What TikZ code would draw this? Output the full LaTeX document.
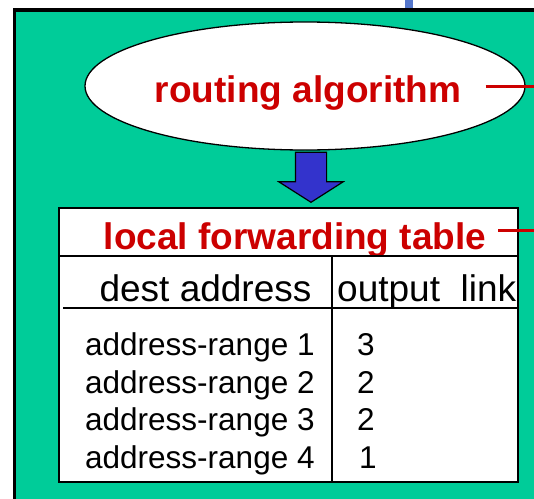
\documentclass[tikz,border=0pt]{standalone}
\usepackage{fontspec}
\setmainfont{Liberation Sans}
\usetikzlibrary{shapes.geometric,shapes.arrows,positioning}
\definecolor{routergreen}{RGB}{0,204,153}
\definecolor{labelred}{RGB}{204,0,0}
\definecolor{arrowblue}{RGB}{51,51,204}
\definecolor{linkblue}{RGB}{85,119,204}

\begin{document}
\begin{tikzpicture}[
    x=1pt, y=-1pt,
    router/.style={rectangle, draw=black, fill=routergreen, line width=3.5pt, inner sep=0pt},
    algo/.style={ellipse, draw=black, fill=white, line width=1.3pt, inner sep=0pt, minimum width=440pt, minimum height=128pt},
    tablebox/.style={rectangle, draw=black, fill=white, line width=2pt, inner sep=0pt},
    heading/.style={font=\fontsize{37}{40}\selectfont\bfseries, text=labelred, inner sep=0pt},
    colhead/.style={font=\fontsize{37}{40}\selectfont, inner sep=0pt},
    entry/.style={font=\fontsize{31.5}{34}\selectfont, inner sep=0pt},
    rule/.style={draw=black, line width=1.5pt},
    feed/.style={draw=labelred, line width=3pt},
    downarrow/.style={single arrow, draw=black, fill=arrowblue, line width=1.2pt, rotate=-90,
        inner xsep=0pt, inner ysep=15pt, minimum height=50pt,
        single arrow head extend=16.5pt, single arrow tip angle=115}
]
    \clip (0,0) rectangle (534,498);

    % router box and the link coming in from above
    \coordinate (uplink) at (409,-5);
    \draw[linkblue, line width=8pt] (uplink) -- (409,12);
    \node[router, minimum width=546pt, minimum height=510pt] (router) at (287.25,265) {};

    % routing algorithm
    \node[algo] (algo) at (305,86) {};
    \node[heading, anchor=base] (algolabel) at (308,102) {routing algorithm};
    \draw[feed] ([xshift=-40pt]algo.east) -- ++(60pt,0pt);

    % big arrow down to the table
    \node[downarrow, anchor=tip] (fill) at (311,203) {};

    % forwarding table
    \node[tablebox, minimum width=459pt, minimum height=274pt] (fwd) at (288.5,345) {};
    \node[heading, anchor=base] (fwdtitle) at (295,249) {local forwarding table};
    \draw[feed] ([shift={(12pt,19pt)}]fwdtitle.base east) -- ++(50pt,0pt);

    \draw[rule] ([yshift=-49pt]fwd.north west) -- ([yshift=-49pt]fwd.north east);
    \draw[rule] ([shift={(5pt,-101pt)}]fwd.north west) -- ([yshift=-101pt]fwd.north east);
    \draw[rule] ([shift={(274pt,-49pt)}]fwd.north west) -- ([xshift=274pt]fwd.south west);

    % column heads
    \node[colhead, anchor=base] (desthead) at (205.5,301) {dest address};
    \node[colhead, anchor=base west] (linkhead) at (337,301) {output\ \ link};

    % entries
    \node[entry, anchor=base west] (range1) at (85,355) {address-range 1};
    \node[entry, anchor=base west] (range2) at (85,393) {address-range 2};
    \node[entry, anchor=base west] (range3) at (85,430) {address-range 3};
    \node[entry, anchor=base west] (range4) at (85,468) {address-range 4};
    \node[entry, anchor=base west] (out1) at (357,355) {3};
    \node[entry, anchor=base west] (out2) at (357,393) {2};
    \node[entry, anchor=base west] (out3) at (357,430) {2};
    \node[entry, anchor=base west] (out4) at (359,468) {1};
\end{tikzpicture}
\end{document}
